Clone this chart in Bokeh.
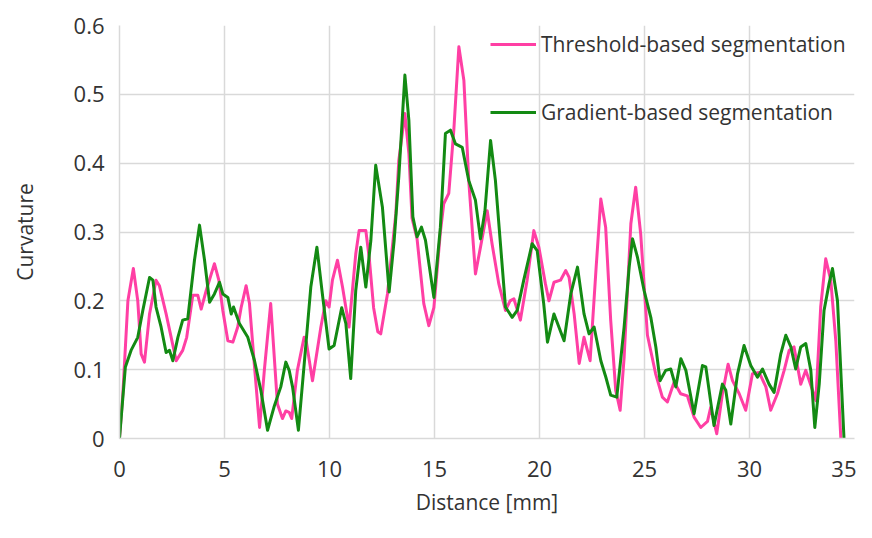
from bokeh.plotting import figure
from bokeh.models import FixedTicker, Range1d, Legend, LegendItem
from bokeh.embed import file_html
from bokeh.resources import INLINE

# ---- data ----
thr_x = [0, 0.16, 0.4, 0.66, 0.87, 1.03, 1.19, 1.43, 1.74, 1.9, 2.22, 2.46, 2.7, 3.01, 3.2,
         3.49, 3.73, 3.89, 4.13, 4.52, 4.73, 4.92, 5.16, 5.4, 5.63, 5.79, 6.03, 6.19, 6.43,
         6.67, 6.9, 7.2, 7.36, 7.52, 7.76, 7.92, 8.08, 8.2, 8.47, 8.79, 8.9, 9.19, 9.59,
         9.82, 9.98, 10.14, 10.38, 10.62, 10.93, 11.25, 11.41, 11.73, 11.9, 12.1, 12.3,
         12.44, 12.76, 13.16, 13.3, 13.59, 13.78, 13.93, 14.17, 14.49, 14.73, 14.97, 15.28,
         15.44, 15.68, 15.92, 16.16, 16.4, 16.63, 16.95, 17.19, 17.51, 17.74, 18.06, 18.38,
         18.6, 18.78, 19.09, 19.41, 19.73, 19.97, 20.28, 20.45, 20.69, 21.0, 21.25, 21.41,
         21.65, 21.89, 22.12, 22.41, 22.7, 22.92, 23.15, 23.39, 23.63, 23.84, 24.03, 24.35,
         24.58, 24.82, 25.14, 25.53, 25.85, 26.09, 26.41, 26.72, 27.04, 27.36, 27.68, 28.0,
         28.15, 28.44, 28.71, 28.98, 29.19, 29.51, 29.82, 30.14, 30.46, 30.78, 31.01, 31.33,
         31.65, 31.89, 32.12, 32.44, 32.68, 33.0, 33.16, 33.39, 33.63, 33.87, 34.11, 34.35]
thr_y = [0, 0.065, 0.2, 0.247, 0.2, 0.123, 0.111, 0.181, 0.23, 0.222, 0.181, 0.147, 0.113, 0.128, 0.147,
         0.208, 0.208, 0.188, 0.215, 0.254, 0.23, 0.186, 0.142, 0.14, 0.162, 0.19, 0.222, 0.196, 0.104,
         0.016, 0.1, 0.196, 0.123, 0.05, 0.029, 0.04, 0.038, 0.029, 0.099, 0.147, 0.14, 0.084, 0.162,
         0.2, 0.191, 0.23, 0.259, 0.22, 0.162, 0.268, 0.302, 0.302, 0.26, 0.19, 0.155,
         0.152, 0.21, 0.327, 0.404, 0.472, 0.414, 0.32, 0.29, 0.196, 0.164, 0.19, 0.3,
         0.341, 0.356, 0.448, 0.569, 0.52, 0.375, 0.239, 0.278, 0.331, 0.283, 0.225, 0.186,
         0.2, 0.203, 0.172, 0.23, 0.302, 0.278, 0.225, 0.2, 0.227, 0.23, 0.244, 0.234,
         0.181, 0.109, 0.147, 0.113, 0.25, 0.348, 0.307, 0.172, 0.07, 0.041, 0.118, 0.312,
         0.365, 0.297, 0.15, 0.094, 0.06, 0.053, 0.082, 0.065, 0.062, 0.031, 0.016, 0.025,
         0.045, 0.007, 0.065, 0.108, 0.084, 0.065, 0.041, 0.094, 0.096, 0.075, 0.041, 0.065,
         0.099, 0.128, 0.133, 0.079, 0.099, 0.07, 0.055, 0.191, 0.261, 0.23, 0.142, 0.0]

grad_x = [0, 0.28, 0.55, 0.87, 1.11, 1.43, 1.59, 1.74, 1.98, 2.22, 2.38, 2.54, 2.78, 3.01, 3.25,
          3.57, 3.81, 4.05, 4.29, 4.52, 4.76, 4.92, 5.16, 5.32, 5.43, 5.71, 6.11, 6.43, 6.73,
          7.05, 7.36, 7.68, 7.92, 8.08, 8.24, 8.52, 8.8, 9.11, 9.4, 9.66, 9.98, 10.22, 10.58,
          10.78, 11.01, 11.25, 11.49, 11.73, 11.97, 12.2, 12.52, 12.84, 13.08, 13.3, 13.59,
          13.78, 13.97, 14.17, 14.38, 14.57, 14.97, 15.28, 15.52, 15.76, 16.0, 16.32, 16.63,
          16.95, 17.19, 17.4, 17.67, 17.9, 18.38, 18.7, 18.94, 19.25, 19.65, 19.89, 20.2,
          20.38, 20.69, 21.17, 21.49, 21.81, 22.12, 22.36, 22.6, 22.92, 23.16, 23.39, 23.68,
          24.03, 24.27, 24.43, 24.66, 24.98, 25.3, 25.54, 25.74, 26.01, 26.25, 26.49, 26.73,
          26.97, 27.36, 27.76, 27.92, 28.31, 28.71, 28.87, 29.11, 29.43, 29.74, 30.06, 30.38,
          30.62, 30.93, 31.17, 31.49, 31.73, 31.97, 32.2, 32.44, 32.68, 32.92, 33.11, 33.32,
          33.55, 33.79, 33.95, 34.19, 34.5]
grad_y = [0, 0.104, 0.128, 0.147, 0.186, 0.234, 0.23, 0.191, 0.162, 0.125, 0.128, 0.113, 0.147, 0.172, 0.174,
          0.259, 0.31, 0.259, 0.198, 0.21, 0.227, 0.21, 0.205, 0.181, 0.191, 0.167, 0.147, 0.113, 0.07,
          0.012, 0.046, 0.075, 0.111, 0.099, 0.075, 0.012, 0.11, 0.22, 0.278, 0.21, 0.13, 0.135, 0.19,
          0.167, 0.087, 0.215, 0.278, 0.22, 0.288, 0.397, 0.336, 0.213, 0.288, 0.38, 0.528,
          0.462, 0.322, 0.293, 0.307, 0.288, 0.205, 0.307, 0.443, 0.448, 0.428, 0.423, 0.375,
          0.346, 0.29, 0.33, 0.433, 0.375, 0.191, 0.176, 0.186, 0.23, 0.283, 0.273, 0.196,
          0.14, 0.181, 0.142, 0.21, 0.249, 0.181, 0.152, 0.162, 0.113, 0.089, 0.063, 0.06,
          0.162, 0.249, 0.29, 0.264, 0.215, 0.176, 0.133, 0.084, 0.099, 0.101, 0.075, 0.116,
          0.099, 0.036, 0.106, 0.104, 0.019, 0.079, 0.07, 0.021, 0.094, 0.135, 0.106, 0.089,
          0.101, 0.079, 0.067, 0.123, 0.15, 0.133, 0.101, 0.133, 0.138, 0.099, 0.016, 0.079,
          0.186, 0.225, 0.247, 0.2, 0.0]

x_ticks = [0, 5, 10, 15, 20, 25, 30, 35]
y_ticks = [0, 0.1, 0.2, 0.3, 0.4, 0.5, 0.6]
y_tick_labels = {0: "0", 0.1: "0.1", 0.2: "0.2", 0.3: "0.3", 0.4: "0.4", 0.5: "0.5", 0.6: "0.6"}
series_names = ["Threshold-based segmentation", "Gradient-based segmentation"]
x_title = "Distance [mm]"
y_title = "Curvature"

FONT = "Open Sans"
TXT = "#333333"
GRID = "#d9d9d9"

p = figure(width=856, height=522, output_backend="svg", toolbar_location=None,
           x_range=Range1d(0, 35), y_range=Range1d(0, 0.6),
           min_border_left=119, min_border_right=2, min_border_top=25, min_border_bottom=84)
p.outline_line_color = None
p.background_fill_color = "white"

p.xaxis.ticker = FixedTicker(ticks=x_ticks)
p.yaxis.ticker = FixedTicker(ticks=y_ticks)
p.yaxis.major_label_overrides = y_tick_labels
for ax in (p.xaxis, p.yaxis):
    ax.axis_line_color = GRID
    ax.axis_line_width = 1.5
    ax.major_tick_line_color = None
    ax.minor_tick_line_color = None
    ax.major_label_text_font = FONT
    ax.major_label_text_font_size = "22px"
    ax.major_label_text_color = TXT
    ax.axis_label_text_font = FONT
    ax.axis_label_text_font_size = "21px"
    ax.axis_label_text_color = TXT
    ax.axis_label_text_font_style = "normal"
p.xaxis.axis_label = x_title
p.yaxis.axis_label = y_title
p.xaxis.major_label_standoff = 16
p.yaxis.major_label_standoff = 9
p.xaxis.axis_label_standoff = 8
p.yaxis.axis_label_standoff = 32

p.xgrid.grid_line_color = GRID
p.ygrid.grid_line_color = GRID
p.xgrid.grid_line_width = 1.5
p.ygrid.grid_line_width = 1.5

r1 = p.line(thr_x, thr_y, line_color="#ff3fa4", line_width=3, line_join="round")
r2 = p.line(grad_x, grad_y, line_color="#138a13", line_width=3, line_join="round")

legend = Legend(items=[LegendItem(label=series_names[0], renderers=[r1]),
                       LegendItem(label=series_names[1], renderers=[r2])],
                location=(371, 312))
legend.padding = 0
legend.margin = 0
legend.border_line_color = None
legend.background_fill_alpha = 0
legend.glyph_width = 46
legend.glyph_height = 20
legend.label_height = 20
legend.spacing = 40
legend.label_standoff = 5
legend.label_text_font = FONT
legend.label_text_font_size = "21px"
legend.label_text_color = TXT
p.add_layout(legend, "center")

open("out.html", "w").write(file_html(p, INLINE))
